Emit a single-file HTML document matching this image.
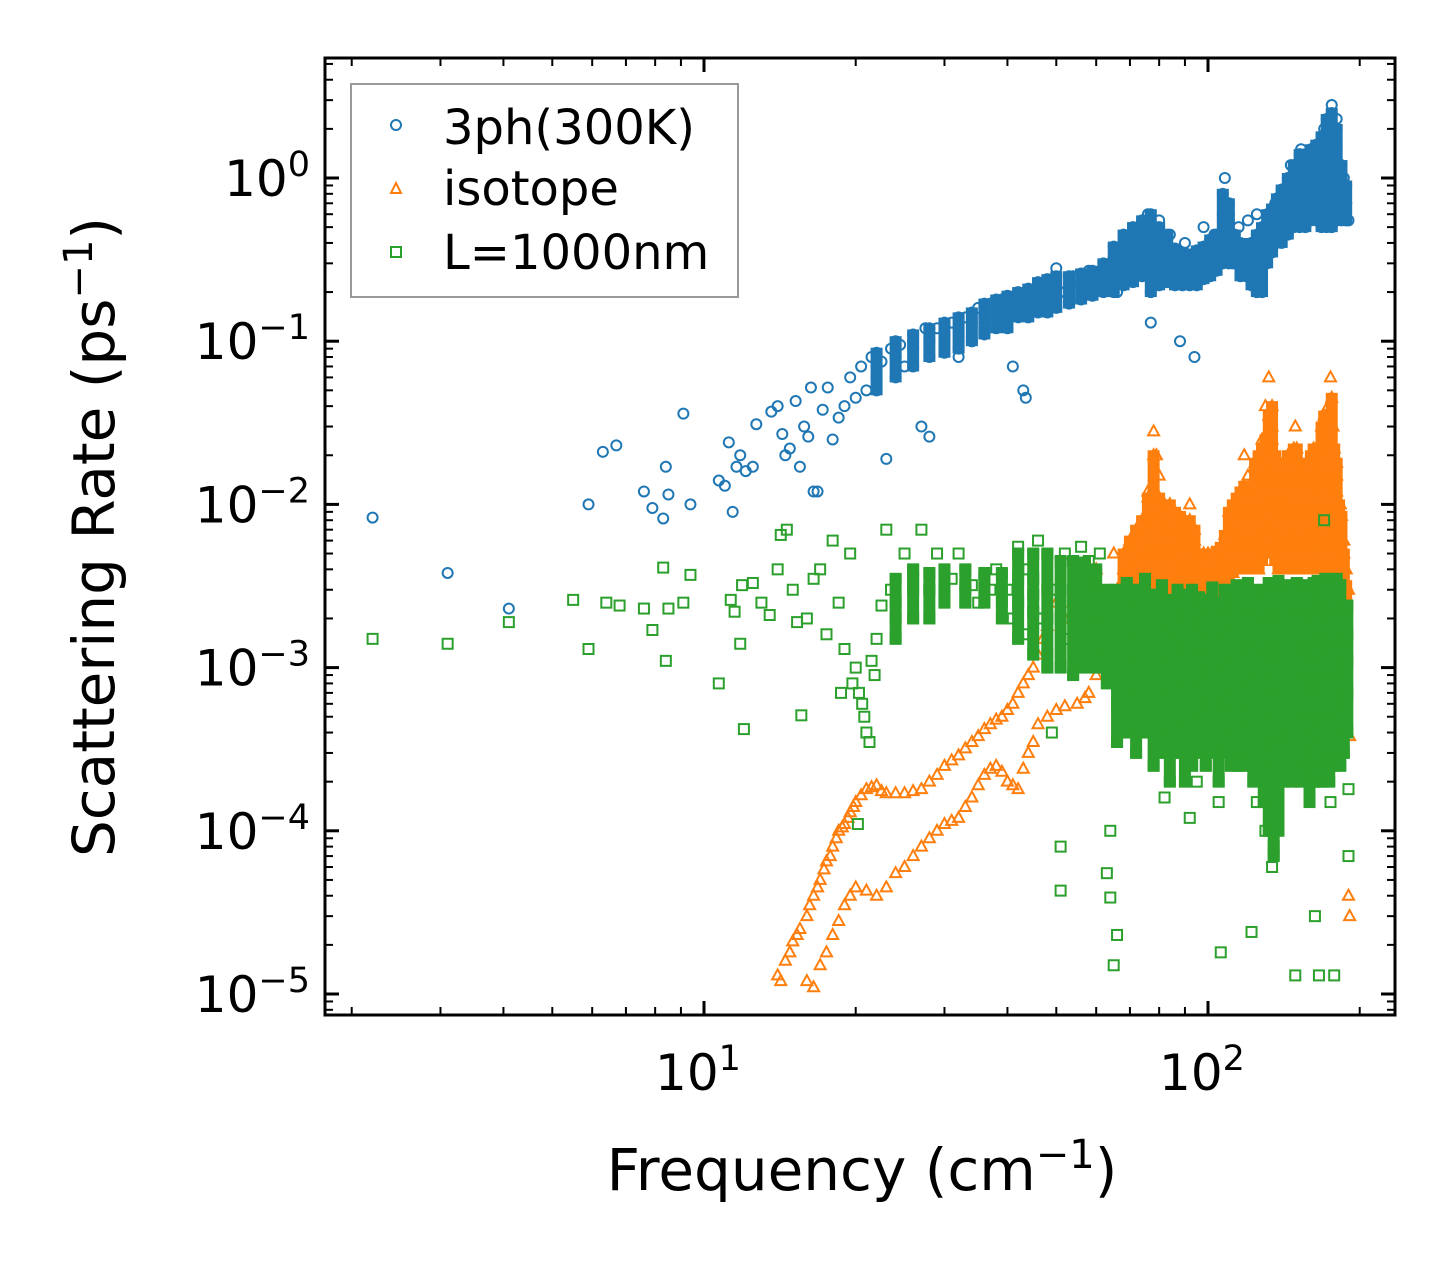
<!DOCTYPE html>
<html><head><meta charset="utf-8"><style>
html,body{margin:0;padding:0;background:#fff;}
svg{display:block;font-family:"DejaVu Sans","Liberation Sans",sans-serif;}
</style></head><body>
<svg id="chart" width="1455" height="1265" viewBox="0 0 1455 1265" xmlns="http://www.w3.org/2000/svg">
<rect width="1455" height="1265" fill="#fff"/>
<g id="marks"></g>
<g id="axes"></g>
<g>
<rect x="351" y="84" width="387" height="213" fill="#fff" fill-opacity="0.8" stroke="#999" stroke-width="2"/>
<circle cx="396" cy="125" r="5" fill="none" stroke="#1f77b4" stroke-width="2"/>
<text x="443" y="144" font-size="48">3ph(300K)</text>
<polygon points="396,183 401,193 391,193" fill="none" stroke="#ff7f0e" stroke-width="2"/>
<text x="443" y="205" font-size="48">isotope</text>
<rect x="391" y="247" width="10" height="10" fill="none" stroke="#2ca02c" stroke-width="2"/>
<text x="443" y="269" font-size="48">L=1000nm</text>
</g>
<text x="862" y="1190" font-size="58" text-anchor="middle">Frequency (cm<tspan dy="-22" font-size="40">−1</tspan><tspan dy="22">)</tspan></text>
<text transform="translate(114,537) rotate(-90)" font-size="58" text-anchor="middle">Scattering Rate (ps<tspan dy="-22" font-size="40">−1</tspan><tspan dy="22">)</tspan></text>
</svg>
<script>
const xTicks=[10,100];
const yTicks=[1,0.1,0.01,0.001,0.0001,0.00001];
const yTickExp=["0","−1","−2","−3","−4","−5"];
const xTickExp=["1","2"];
const blueData=[[2.2,0.0083],[3.1,0.0038],[4.1,0.0023],[5.9,0.010],[6.3,0.021],[6.7,0.023],[7.6,0.012],[7.9,0.0095],[8.3,0.0082],[8.4,0.017],[8.5,0.0115],[9.1,0.036],[9.4,0.010],[10.7,0.014],[11.0,0.013],[11.2,0.024],[11.4,0.009],[11.6,0.017],[11.8,0.02],[12.1,0.016],[12.5,0.017],[12.7,0.031],[13.6,0.037],[14,0.04],[14.3,0.027],[14.5,0.02],[14.8,0.022],[15.2,0.043],[15.5,0.017],[15.8,0.03],[16.1,0.026],[16.3,0.052],[16.5,0.012],[16.8,0.012],[17.2,0.038],[17.6,0.052],[18,0.025],[18.5,0.034],[19,0.04],[19.5,0.06],[20,0.045],[20.5,0.07],[21,0.05],[21.5,0.08],[22,0.06],[22.5,0.075],[23,0.019],[23.5,0.09],[24,0.08],[24.5,0.095],[25,0.07],[26,0.1],[27,0.03],[27.5,0.12],[28,0.026],[29,0.12],[30,0.09],[31,0.13],[32,0.08],[33,0.14],[34,0.1],[35,0.16],[36,0.12],[37,0.17],[38,0.14],[39,0.18],[40,0.13],[41,0.07],[42,0.19],[43,0.05],[43.5,0.045],[44,0.2],[45,0.16],[46,0.22],[47,0.17],[48,0.23],[49,0.2],[50,0.28],[52,0.2],[54,0.25],[56,0.22],[58,0.27],[60,0.24],[62,0.26],[64,0.3],[66,0.2],[68,0.35],[70,0.25],[72,0.45],[74,0.3],[76,0.6],[77,0.13],[78,0.4],[80,0.55],[82,0.3],[84,0.45],[86,0.35],[88,0.1],[90,0.4],[92,0.3],[94,0.08],[96,0.35],[98,0.5],[100,0.3],[103,0.45],[106,0.4],[108,1.0],[110,0.6],[112,0.3],[115,0.5],[118,0.35],[120,0.55],[122,0.4],[125,0.6],[128,0.25],[130,0.45],[133,0.5],[136,0.7],[140,0.6],[143,0.8],[146,1.2],[150,0.7],[153,1.5],[156,0.9],[160,1.2],[163,0.6],[166,1.3],[170,2.0],[173,0.8],[176,2.8],[178,1.5],[180,2.3],[183,0.9],[186,1.0],[188,0.7],[190,0.55]];
const blueCloud=[[22,[0.05,0.07,0.085]],[24,[0.06,0.08,0.1]],[26,[0.07,0.09,0.11]],[28,[0.08,0.1,0.12]],[30,[0.085,0.11,0.13]],[32,[0.09,0.12,0.14]],[34,[0.1,0.13,0.15]],[36,[0.11,0.14,0.17]],[38,[0.12,0.15,0.18]],[40,[0.12,0.16,0.19]],[42,[0.14,0.17,0.2]],[44,[0.14,0.18,0.21]],[46,[0.15,0.19,0.23]],[48,[0.15,0.2,0.24]],[50,[0.16,0.21,0.25]],[53,[0.17,0.21,0.25]],[56,[0.18,0.22,0.26]],[59,[0.19,0.23,0.27]],[62,[0.2,0.25,0.3]],[65,[0.2,0.27,0.33,0.38]],[68,[0.22,0.3,0.38,0.45]],[71,[0.23,0.32,0.42,0.5]],[74,[0.25,0.35,0.45,0.55]],[77,[0.2,0.3,0.4,0.6]],[80,[0.22,0.32,0.42,0.5]],[83,[0.23,0.3,0.38,0.45]],[86,[0.22,0.3,0.37]],[89,[0.22,0.28,0.35]],[92,[0.22,0.28,0.34]],[95,[0.22,0.3,0.36]],[98,[0.24,0.3,0.38]],[101,[0.25,0.32,0.42]],[104,[0.27,0.35,0.45]],[107,[0.3,0.4,0.6,0.8]],[110,[0.3,0.4,0.55,0.7]],[113,[0.3,0.38,0.45]],[116,[0.25,0.32,0.4]],[119,[0.25,0.3,0.38]],[122,[0.22,0.3,0.4]],[125,[0.2,0.3,0.38,0.45]],[128,[0.2,0.3,0.4,0.5]],[131,[0.3,0.4,0.5,0.6]],[134,[0.35,0.45,0.55,0.65]],[137,[0.4,0.5,0.6,0.75]],[140,[0.4,0.55,0.7,0.85]],[144,[0.45,0.6,0.8,1.0]],[148,[0.5,0.7,0.9,1.2]],[152,[0.5,0.7,1.0,1.4]],[156,[0.5,0.7,1.0,1.4]],[160,[0.55,0.8,1.1,1.5]],[164,[0.55,0.8,1.2,1.6]],[168,[0.5,0.8,1.2,1.8]],[172,[0.5,0.8,1.2,1.8,2.3]],[176,[0.5,0.8,1.2,1.7,2.5]],[180,[0.55,0.8,1.1,1.5,2.0]],[184,[0.55,0.7,0.9,1.2]],[188,[0.55,0.7,0.9]]];
const orangeData=[[14,1.3e-5],[14.5,1.6e-5],[15,2.1e-5],[15.5,2.5e-5],[16,3e-5],[16.5,4e-5],[17,5e-5],[17.5,6.5e-5],[18,8e-5],[18.5,1e-4],[19,1.1e-4],[19.5,1.3e-4],[20,1.5e-4],[21,1.8e-4],[22,1.9e-4],[23,1.7e-4],[25,1.7e-4],[27,1.8e-4],[29,2.2e-4],[30,2.5e-4],[32,2.9e-4],[33,3.2e-4],[35,3.8e-4],[36,4.2e-4],[38,4.8e-4],[40,5.5e-4],[42,7e-4],[43,8e-4],[45,1e-3],[47,1.5e-3],[50,2.5e-3],[55,3e-3],[60,4e-3],[65,5e-3],
[16,1.2e-5],[17,1.5e-5],[18,2.3e-5],[19,3.5e-5],[20,4.5e-5],[22,4e-5],[24,5.5e-5],[26,7e-5],[28,9e-5],[30,1.1e-4],[32,1.2e-4],[34,1.6e-4],[36,2.2e-4],[38,2.5e-4],[40,2e-4],[42,1.8e-4],[44,3e-4],[46,4.5e-4],[50,5.5e-4],[55,6e-4],[58,7e-4],[60,9e-4],[62,1.2e-3],[65,1.5e-3],
[14.2,1.2e-5],[14.8,1.8e-5],[15.3,2.3e-5],[16.2,3.5e-5],[16.8,4.5e-5],[17.3,5.8e-5],[17.8,7e-5],[18.3,9e-5],[18.8,1.05e-4],[19.3,1.2e-4],[19.8,1.4e-4],[20.5,1.65e-4],[21.5,1.85e-4],[22.5,1.75e-4],[24,1.7e-4],[26,1.75e-4],[28,2e-4],[31,2.7e-4],[34,3.5e-4],[37,4.5e-4],[39,5e-4],[41,6e-4],[44,9e-4],[46,1.2e-3],[48,1.8e-3],[52,2e-3],[54,2.5e-3],[58,3.5e-3],
[16.5,1.1e-5],[17.5,1.8e-5],[18.5,2.8e-5],[19.5,4e-5],[21,4.3e-5],[23,4.5e-5],[25,6e-5],[27,8e-5],[29,1e-4],[31,1.15e-4],[33,1.4e-4],[35,1.9e-4],[37,2.4e-4],[39,2.3e-4],[41,1.9e-4],[43,2.4e-4],[45,3.5e-4],[48,5e-4],[52,5.8e-4],[57,6.5e-4],[61,1e-3],[63,1.3e-3],
[66,2e-3],[68,4e-3],[70,6e-3],[72,3e-3],[74,8e-3],[76,1.2e-2],[78,2.8e-2],[79,2e-2],[80,1.5e-2],[82,5e-3],[84,1e-2],[86,7e-3],[88,6e-3],[90,4e-3],[92,1e-2],[94,6e-3],[96,4e-3],[98,3e-3],[100,2.5e-3],[104,3e-3],[108,4e-3],[110,7e-3],[113,6e-3],[116,1.2e-2],[118,2e-2],[120,1.5e-2],[123,8e-3],[126,1.2e-2],[128,2.5e-2],[130,4e-2],[132,6e-2],[134,3e-2],[136,1.5e-2],[138,8e-3],[140,5e-3],[143,1e-2],[146,2e-2],[149,3e-2],[152,1.5e-2],[155,1e-2],[158,8e-3],[160,1.2e-2],[163,2e-2],[166,1.5e-2],[170,2.5e-2],[173,4e-2],[175,6e-2],[177,3e-2],[180,1.5e-2],[183,1e-2],[186,6e-3],[188,4e-3],[190,3e-3],[191,3.8e-4],[191,3e-5],[190,4e-5]];
const orangeCloud=[[66,[2e-3,3e-3]],[68,[2.2e-3,3.5e-3,5e-3]],[70,[2.5e-3,4e-3,6e-3]],[72,[2.5e-3,4.5e-3,7e-3]],[74,[3e-3,5e-3,8e-3]],[76,[3e-3,5e-3,8e-3,1.1e-2]],[78,[3e-3,5e-3,8e-3,1.2e-2,2e-2]],[80,[3e-3,5e-3,8e-3,1.1e-2]],[82,[3e-3,5e-3,7e-3,1e-2]],[84,[3e-3,4.5e-3,7e-3,1e-2]],[86,[3e-3,4.5e-3,6e-3,9e-3]],[88,[3e-3,4e-3,6e-3,8.5e-3]],[90,[3e-3,4e-3,6e-3,8e-3]],[92,[3e-3,4e-3,5.5e-3,8e-3]],[94,[3e-3,4e-3,5.5e-3,7e-3]],[96,[2.5e-3,3.8e-3,5e-3]],[98,[2.5e-3,3.5e-3,5e-3]],[100,[2.5e-3,3.5e-3,5e-3]],[102,[2.5e-3,3.5e-3,5e-3]],[104,[2.8e-3,3.8e-3,5.2e-3]],[106,[3e-3,4e-3,5.5e-3]],[108,[3.2e-3,4.5e-3,6.5e-3]],[110,[3.5e-3,5e-3,7e-3,9e-3]],[112,[3.8e-3,5.5e-3,7.5e-3,1e-2]],[114,[4e-3,6e-3,8e-3,1.1e-2]],[116,[4e-3,6e-3,8.5e-3,1.2e-2]],[118,[4e-3,6e-3,9e-3,1.3e-2]],[120,[4e-3,6e-3,9e-3,1.2e-2]],[122,[4e-3,6e-3,9e-3,1.3e-2]],[124,[4e-3,6e-3,9e-3,1.3e-2,1.8e-2]],[126,[4e-3,6e-3,9e-3,1.3e-2,2e-2]],[128,[4.5e-3,6.5e-3,9.5e-3,1.4e-2,2.2e-2]],[130,[5e-3,7e-3,1e-2,1.5e-2,2.5e-2]],[132,[5e-3,7e-3,1e-2,1.5e-2,2.5e-2,3.5e-2]],[134,[5e-3,7e-3,1e-2,1.5e-2,2.5e-2,4e-2]],[136,[4.5e-3,6.5e-3,9.5e-3,1.4e-2,2e-2]],[138,[4e-3,6e-3,9e-3,1.3e-2]],[140,[4e-3,6e-3,9e-3,1.3e-2]],[142,[4e-3,6e-3,9e-3,1.3e-2,1.8e-2]],[144,[4e-3,6e-3,9e-3,1.4e-2,2e-2]],[146,[4e-3,6e-3,9e-3,1.4e-2,2e-2]],[148,[4e-3,6e-3,9e-3,1.4e-2,2.2e-2]],[150,[4e-3,6e-3,9e-3,1.4e-2,2.2e-2]],[152,[4e-3,6e-3,9e-3,1.3e-2,1.8e-2]],[154,[4e-3,6e-3,9e-3,1.3e-2]],[156,[4e-3,6e-3,9e-3,1.3e-2]],[158,[4e-3,6e-3,9e-3,1.3e-2,1.8e-2]],[160,[4e-3,6e-3,9e-3,1.4e-2,2e-2]],[162,[4e-3,6e-3,9e-3,1.4e-2,2.2e-2]],[164,[4e-3,6e-3,9e-3,1.4e-2,2.2e-2]],[166,[4e-3,6e-3,9e-3,1.4e-2,2.2e-2]],[168,[4e-3,6e-3,9e-3,1.4e-2,2.2e-2,3e-2]],[170,[4e-3,6e-3,9e-3,1.4e-2,2.2e-2,3.5e-2]],[172,[4e-3,6e-3,9e-3,1.4e-2,2.2e-2,3.5e-2]],[174,[4e-3,6e-3,9e-3,1.4e-2,2.2e-2,3.5e-2]],[176,[4e-3,6e-3,9e-3,1.4e-2,2.2e-2,4.5e-2]],[178,[4e-3,6e-3,9e-3,1.4e-2,2.2e-2]],[180,[3.8e-3,5.5e-3,8e-3,1.2e-2,1.8e-2]],[182,[3.5e-3,5e-3,7e-3,1e-2]],[184,[3e-3,4.2e-3,6e-3,8.5e-3]],[186,[2.5e-3,3.5e-3,5e-3]],[188,[2.3e-3,3.2e-3]]];
const greenData=[[2.2,1.5e-3],[3.1,1.4e-3],[4.1,1.9e-3],[5.5,2.6e-3],[5.9,1.3e-3],[6.4,2.5e-3],[6.8,2.4e-3],[7.6,2.3e-3],[7.9,1.7e-3],[8.3,4.1e-3],[8.4,1.1e-3],[8.5,2.3e-3],[9.1,2.5e-3],[9.4,3.7e-3],[10.7,8e-4],[11.3,2.6e-3],[11.5,2.2e-3],[11.8,1.4e-3],[12,4.2e-4],[11.9,3.2e-3],[12.5,3.3e-3],[13,2.5e-3],[13.5,2.1e-3],[14,4e-3],[14.2,6.5e-3],[14.6,7e-3],[15,3e-3],[15.3,1.9e-3],[15.6,5.1e-4],[16,2e-3],[16.5,3.5e-3],[17,4e-3],[17.5,1.6e-3],[18,6e-3],[18.5,2.5e-3],[19,1.3e-3],[19.5,5e-3],[20,1e-3],[20.3,7e-4],[20.6,6e-4],[21,4e-4],[21.3,3.5e-4],[21.5,1.1e-3],[22,1.5e-3],[22.5,2.4e-3],[23,7e-3],[23.5,3e-3],[24,2e-3],[25,5e-3],[26,3.5e-3],[27,7e-3],[28,3e-3],[29,5e-3],[30,2.8e-3],[31,3.5e-3],[32,5e-3],[33,3e-3],[34,3.2e-3],[35,2.5e-3],[36,3.5e-3],[37,3e-3],[38,4e-3],[39,2.5e-3],[40,3e-3],[41,2e-3],[42,5.5e-3],[43,1.6e-3],[44,4e-3],[45,2.8e-3],[46,6e-3],[47,2e-3],[48,1.2e-3],[49,4e-4],[50,3e-3],[51,4.3e-5],[51,8e-5],[52,5e-3],[53,1.5e-3],[54,2.5e-3],[55,4e-3],[56,5.5e-3],[57,2e-3],[58,4.5e-3],[59,1.4e-3],[60,3e-3],[61,5e-3],[62,1e-3],[63,5.5e-5],[64,3.9e-5],[65,1.5e-5],[66,2.3e-5],[64,1e-4],[66,3.5e-4],[82,1.6e-4],[92,1.2e-4],[106,1.8e-5],[122,2.4e-5],[130,1e-4],[134,6e-5],[149,1.3e-5],[163,3e-5],[166,1.3e-5],[170,8e-3],[178,1.3e-5],[190,7e-5],[190,1.8e-4],[95,2e-4],[105,1.5e-4],[115,2.5e-4],[125,1.5e-4],[135,8e-5],[145,4e-4],[155,3e-4],[165,2e-4],[175,1.5e-4],[185,3e-4],[20.2,1.1e-4],[18.7,7e-4],[19.7,8e-4],[20.8,5e-4],[21.8,9e-4]];
const greenCloud=[[24,[1.5e-3,2.5e-3,3.5e-3]],[26,[2e-3,3e-3,4e-3]],[28,[2e-3,3e-3,3.8e-3]],[30,[2.5e-3,3.2e-3,4e-3]],[33,[2.5e-3,3.2e-3,4e-3]],[36,[2.5e-3,3e-3,3.8e-3]],[39,[2e-3,3e-3,3.8e-3]],[42,[1.5e-3,2.5e-3,3.5e-3,5e-3]],[45,[1.2e-3,2.2e-3,3.5e-3,5e-3]],[48,[1e-3,2e-3,3e-3,5e-3]],[51,[1e-3,2e-3,3e-3,4.5e-3]],[54,[9e-4,2e-3,3e-3,4.5e-3]],[57,[1e-3,1.9e-3,3.1e-3,4.4e-3]],[60,[1e-3,1.8e-3,3e-3,4e-3]],[63,[8e-4,1.3e-3,2e-3,3e-3]],
[66,[3.5e-4,6e-4,1e-3,1.5e-3,2.2e-3,3e-3]],[69,[4e-4,7e-4,1.1e-3,1.6e-3,2.4e-3,3.3e-3]],[72,[3e-4,6e-4,9e-4,1.4e-3,2e-3,3e-3]],[75,[4e-4,7e-4,1.1e-3,1.7e-3,2.6e-3,3.5e-3]],[78,[2.5e-4,5e-4,8e-4,1.2e-3,1.9e-3,2.8e-3]],[81,[3e-4,6e-4,1e-3,1.5e-3,2.3e-3,3.2e-3]],[84,[2e-4,4e-4,7e-4,1.1e-3,1.7e-3,2.6e-3]],[87,[3e-4,6e-4,1e-3,1.5e-3,2.2e-3,3e-3]],[90,[2e-4,4.5e-4,8e-4,1.3e-3,2e-3,2.8e-3]],[93,[2.5e-4,5e-4,9e-4,1.4e-3,2.1e-3,3e-3]],[96,[3e-4,5.5e-4,9e-4,1.3e-3,1.9e-3,2.7e-3]],[99,[2.5e-4,5e-4,8e-4,1.2e-3,1.8e-3,2.6e-3]],[102,[3e-4,6e-4,1e-3,1.5e-3,2.2e-3,3.1e-3]],[105,[2e-4,4e-4,7e-4,1.1e-3,1.7e-3,2.5e-3]],[108,[3e-4,6e-4,1e-3,1.5e-3,2.2e-3,3e-3]],[111,[2.5e-4,5e-4,8.5e-4,1.3e-3,2e-3,2.8e-3]],[114,[3e-4,6e-4,1e-3,1.5e-3,2.2e-3,3.2e-3]],[117,[2.5e-4,5e-4,9e-4,1.4e-3,2.1e-3,3e-3]],[120,[3e-4,6e-4,1e-3,1.5e-3,2.3e-3,3.3e-3]],[123,[2e-4,4.5e-4,8e-4,1.3e-3,2e-3,2.9e-3]],[126,[2.5e-4,5e-4,9e-4,1.4e-3,2.1e-3,3e-3]],[129,[1.5e-4,3.5e-4,7e-4,1.2e-3,1.9e-3,2.8e-3]],[132,[1e-4,2.5e-4,5e-4,9e-4,1.5e-3,2.3e-3,3.3e-3]],[135,[7e-5,1.5e-4,3.5e-4,7e-4,1.2e-3,2e-3,3e-3]],[138,[1e-4,2.5e-4,5e-4,9e-4,1.5e-3,2.4e-3,3.4e-3]],[141,[2e-4,4e-4,7e-4,1.2e-3,1.9e-3,2.8e-3]],[144,[2.5e-4,5e-4,9e-4,1.4e-3,2.2e-3,3.2e-3]],[147,[2e-4,4.5e-4,8e-4,1.3e-3,2.1e-3,3e-3]],[150,[2.5e-4,5e-4,9e-4,1.5e-3,2.3e-3,3.3e-3]],[153,[2e-4,4e-4,7e-4,1.2e-3,2e-3,3e-3]],[156,[2.5e-4,5e-4,9e-4,1.4e-3,2.2e-3,3.2e-3]],[159,[1.5e-4,3.5e-4,7e-4,1.2e-3,2e-3,3e-3]],[162,[2e-4,4.5e-4,8e-4,1.4e-3,2.2e-3,3.3e-3]],[165,[2.5e-4,5e-4,9e-4,1.5e-3,2.3e-3,3.4e-3]],[168,[2e-4,4.5e-4,8e-4,1.3e-3,2.1e-3,3.2e-3]],[171,[2.5e-4,5e-4,9e-4,1.5e-3,2.4e-3,3.5e-3]],[174,[2e-4,4e-4,7e-4,1.2e-3,2e-3,3e-3]],[177,[2.5e-4,5e-4,9e-4,1.4e-3,2.2e-3,3.3e-3]],[180,[3e-4,6e-4,1e-3,1.6e-3,2.5e-3,3.5e-3]],[183,[2.5e-4,5e-4,9e-4,1.4e-3,2.2e-3,3.2e-3]],[186,[3e-4,6e-4,1e-3,1.5e-3,2.3e-3]],[189,[4e-4,7e-4,1.1e-3,1.6e-3,2.4e-3]]];
const NS="http://www.w3.org/2000/svg";
const L=325,R=1395,T=58,B=1015;
function xs(f){return 704+504*Math.log10(f/10);}
function ys(v){return 178-163.2*Math.log10(v);}
function expand(pairs,groups){const out=pairs.slice();groups.forEach(g=>g[1].forEach(v=>out.push([g[0],v])));return out;}
const marks=document.getElementById('marks');
const axes=document.getElementById('axes');
function el(tag,attrs,parent){const e=document.createElementNS(NS,tag);for(const k in attrs)e.setAttribute(k,attrs[k]);parent.appendChild(e);return e;}
function bands(groups,color,name){
 groups.forEach(g=>{
  const lo=Math.min(...g[1]),hi=Math.max(...g[1]);
  const x=xs(g[0]);
  const r=el('rect',{x:x-6,y:ys(hi)-5,width:12,height:ys(lo)-ys(hi)+10,fill:color},marks);
  
  
 });
}
bands(blueCloud,'#1f77b4','dense-band-3ph');
expand(blueData,blueCloud).forEach(d=>{
 const c=el('circle',{cx:xs(d[0]),cy:ys(d[1]),r:5,fill:'none',stroke:'#1f77b4','stroke-width':2},marks);
 
 
});
bands(orangeCloud,'#ff7f0e','dense-band-isotope');
expand(orangeData,orangeCloud).forEach(d=>{
 const x=xs(d[0]),y=ys(d[1]);
 const p=el('polygon',{points:`${x},${y-6} ${x+5.5},${y+4} ${x-5.5},${y+4}`,fill:'none',stroke:'#ff7f0e','stroke-width':2},marks);
 
 
});
bands(greenCloud,'#2ca02c','dense-band-boundary');
expand(greenData,greenCloud).forEach(d=>{
 const x=xs(d[0]),y=ys(d[1]);
 const r=el('rect',{x:x-5,y:y-5,width:10,height:10,fill:'none',stroke:'#2ca02c','stroke-width':2},marks);
 
 
});
const frame=el('rect',{x:L,y:T,width:R-L,height:B-T,fill:'none',stroke:'#000','stroke-width':3},axes);


for(let e=0;e<=2;e++){for(let m=1;m<=9;m++){const f=m*Math.pow(10,e);const x=xs(f);if(x<L||x>R)continue;const len=m===1?14:8;
 const t1=el('line',{x1:x,x2:x,y1:B,y2:B-len,stroke:'#000','stroke-width':m===1?3:2},axes);
 
 
 const t2=el('line',{x1:x,x2:x,y1:T,y2:T+len,stroke:'#000','stroke-width':m===1?3:2},axes);
 
 }}
xTicks.forEach((f,i)=>{
 const t=el('text',{x:xs(f)-6,y:1090,'font-size':50,'text-anchor':'middle'},axes);
 
 
 t.innerHTML=`10<tspan dy="-20" font-size="35">${xTickExp[i]}</tspan>`;
});
for(let e=-6;e<=0;e++){for(let m=1;m<=9;m++){const v=m*Math.pow(10,e);const y=ys(v);if(y<T||y>B)continue;const len=m===1?14:8;
 const t1=el('line',{x1:L,x2:L+len,y1:y,y2:y,stroke:'#000','stroke-width':m===1?3:2},axes);
 
 
 const t2=el('line',{x1:R,x2:R-len,y1:y,y2:y,stroke:'#000','stroke-width':m===1?3:2},axes);
 
 }}
yTicks.forEach((v,i)=>{
 const t=el('text',{x:310,y:ys(v)+18,'font-size':50,'text-anchor':'end'},axes);
 
 
 t.innerHTML=`10<tspan dy="-20" font-size="35">${yTickExp[i]}</tspan>`;
});
</script>
</body></html>
